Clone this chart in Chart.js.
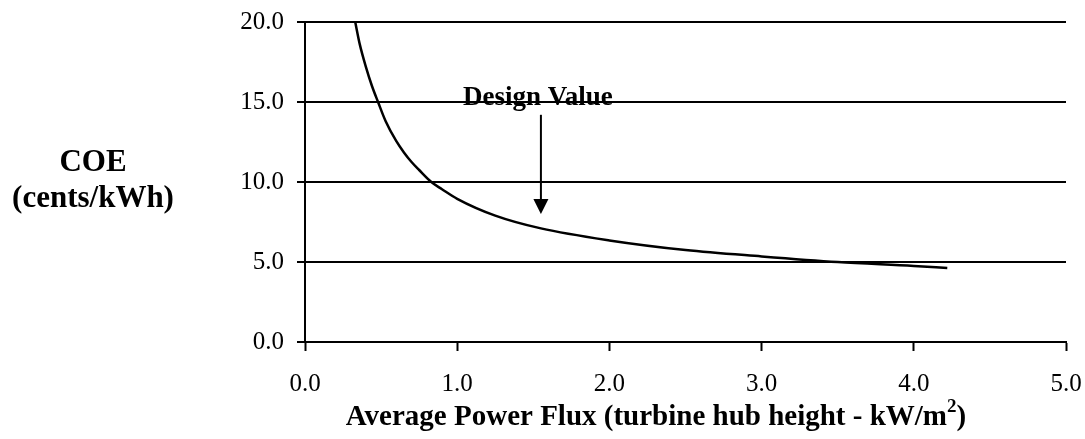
<!DOCTYPE html>
<html>
<head>
<meta charset="utf-8">
<script src="https://cdn.jsdelivr.net/npm/chart.js@4.4.0/dist/chart.umd.min.js"></script>
<style>
  html, body { margin: 0; padding: 0; background: #fff; }
  #wrap { width: 1085px; height: 439px; position: relative; }
</style>
</head>
<body>
<div id="wrap"><canvas id="chart" width="1085" height="439"></canvas></div>
<script>
// values
const fluxValues = [0.33, 0.36, 0.40, 0.44, 0.48, 0.53, 0.60, 0.65, 0.70, 0.75, 0.83, 0.90, 1.00, 1.25, 1.55, 2.00, 2.50, 3.00, 3.50, 4.00, 4.22];
const coeValues  = [20.0, 18.6, 17.2, 16.0, 15.0, 13.8, 12.55, 11.85, 11.25, 10.75, 10.0, 9.55, 8.95, 7.9, 7.1, 6.35, 5.75, 5.35, 5.0, 4.75, 4.62];
const xTicks = [0, 1, 2, 3, 4, 5];
const yTicks = [0, 5, 10, 15, 20];
const designValue = { x: 1.55, yTop: 14.2, yTip: 8.0, label: 'Design Value' };
const yTitleLines = ['COE', '(cents/kWh)'];
const xTitle = 'Average Power Flux (turbine hub height - kW/m';

const serif = '"Liberation Serif", "Times New Roman", serif';

// text + arrow that are not part of the scales
const extras = {
  id: 'extras',
  afterDraw(chart) {
    const ctx = chart.ctx;
    const xs = chart.scales.x, ys = chart.scales.y;
    ctx.save();
    ctx.fillStyle = '#000';
    ctx.strokeStyle = '#000';

    // design value arrow
    const ax = xs.getPixelForValue(designValue.x);
    const aTop = ys.getPixelForValue(designValue.yTop);
    const aTip = ys.getPixelForValue(designValue.yTip);
    ctx.lineWidth = 2;
    ctx.beginPath();
    ctx.moveTo(ax, aTop);
    ctx.lineTo(ax, aTip - 14);
    ctx.stroke();
    ctx.beginPath();
    ctx.moveTo(ax - 7.5, aTip - 15);
    ctx.lineTo(ax + 7.5, aTip - 15);
    ctx.lineTo(ax, aTip);
    ctx.closePath();
    ctx.fill();

    ctx.font = 'bold 27px ' + serif;
    ctx.textAlign = 'center';
    ctx.textBaseline = 'alphabetic';
    ctx.fillText(designValue.label, ax - 3, 105);

    // y title (horizontal, left)
    ctx.font = 'bold 31px ' + serif;
    ctx.textBaseline = 'middle';
    ctx.fillText(yTitleLines[0], 93, 163);
    ctx.fillText(yTitleLines[1], 93, 199);

    // x title with superscript
    ctx.font = 'bold 29px ' + serif;
    ctx.textAlign = 'left';
    ctx.textBaseline = 'alphabetic';
    const w1 = ctx.measureText(xTitle).width;
    ctx.font = 'bold 19px ' + serif;
    const w2 = ctx.measureText('2').width;
    ctx.font = 'bold 29px ' + serif;
    const w3 = ctx.measureText(')').width;
    const total = w1 + w2 + w3;
    const x0 = 656 - total / 2;
    const base = 425;
    ctx.fillText(xTitle, x0, base);
    ctx.font = 'bold 19px ' + serif;
    ctx.fillText('2', x0 + w1, base - 13);
    ctx.font = 'bold 29px ' + serif;
    ctx.fillText(')', x0 + w1 + w2, base);
    ctx.restore();
  }
};

const points = fluxValues.map((v, i) => ({ x: v, y: coeValues[i] }));

function noPad(s) {
  s.paddingLeft = 0; s.paddingRight = 0; s.paddingTop = 0; s.paddingBottom = 0;
}

new Chart(document.getElementById('chart'), {
  type: 'line',
  data: {
    datasets: [{
      data: points,
      borderColor: '#000',
      borderWidth: 2.5,
      pointRadius: 0,
      fill: false,
      cubicInterpolationMode: 'monotone'
    }]
  },
  options: {
    responsive: false,
    animation: false,
    devicePixelRatio: 1,
    layout: { padding: { top: 22, right: 19, left: 0, bottom: 0 } },
    plugins: { legend: { display: false }, tooltip: { enabled: false } },
    scales: {
      x: {
        type: 'linear',
        min: 0, max: 5,
        afterBuildTicks: (s) => { s.ticks = xTicks.map(v => ({ value: v })); },
        afterFit: (s) => { s.height = 97; noPad(s); },
        ticks: {
          color: '#000',
          font: { family: serif, size: 25 },
          padding: 18,
          callback: (v) => Number(v).toFixed(1)
        },
        grid: { drawOnChartArea: false, drawTicks: true, tickLength: 9, tickColor: '#000', tickWidth: 2 },
        border: { display: true, color: '#000', width: 2 }
      },
      y: {
        type: 'linear',
        min: 0, max: 20,
        afterBuildTicks: (s) => { s.ticks = yTicks.map(v => ({ value: v })); },
        afterFit: (s) => { s.width = 305; noPad(s); },
        ticks: {
          color: '#000',
          font: { family: serif, size: 25 },
          padding: 13,
          callback: (v) => Number(v).toFixed(1)
        },
        grid: { color: '#000', lineWidth: 2, drawTicks: true, tickLength: 8, tickColor: '#000' },
        border: { display: true, color: '#000', width: 2 }
      }
    }
  },
  plugins: [extras]
});
</script>
</body>
</html>
